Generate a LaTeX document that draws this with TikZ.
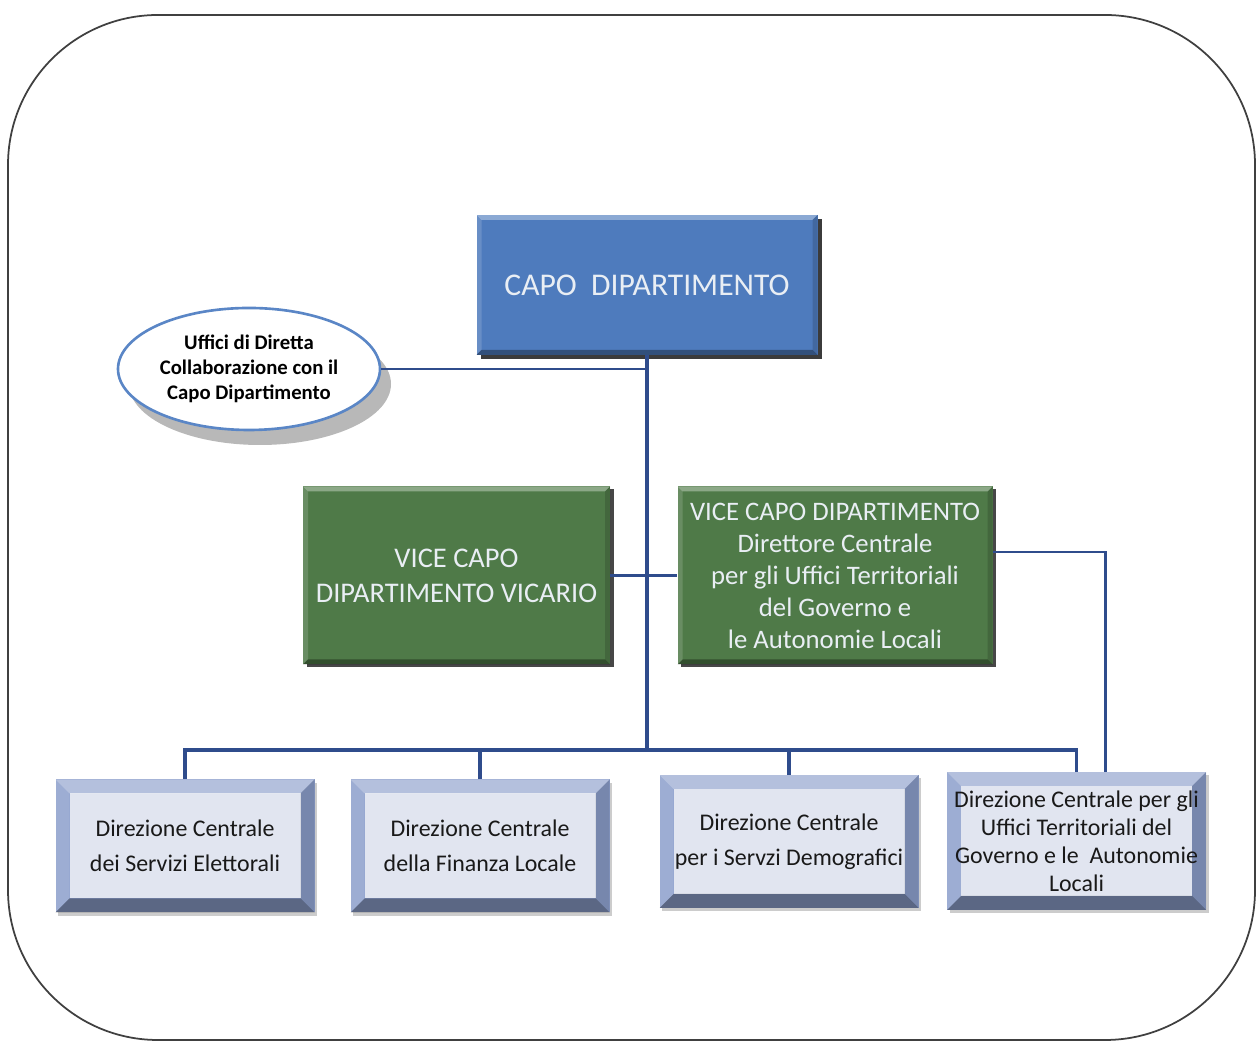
\documentclass[tikz,border=0pt]{standalone}
\usepackage{fontspec}
\setmainfont{Carlito}
\usetikzlibrary{shapes,arrows.meta,calc,positioning,shadows}
\definecolor{capoblue}{HTML}{4E7BBD}
\definecolor{vicegreen}{HTML}{4F7A48}
\definecolor{linkblue}{HTML}{2F4C8C}
\definecolor{ringblue}{HTML}{5A86C6}
\definecolor{dirbevel}{HTML}{8C9FCC}
\definecolor{dirface}{HTML}{E1E5F0}
\definecolor{lighttext}{HTML}{E9EEF4}
\tikzset{>=latex}
\tikzset{
  bevel/.style 2 args={path picture={
      \coordinate (pnw) at (path picture bounding box.north west);
      \coordinate (pne) at (path picture bounding box.north east);
      \coordinate (psw) at (path picture bounding box.south west);
      \coordinate (pse) at (path picture bounding box.south east);
      \path[fill=#2] ([shift={(#1,-#1)}]pnw) rectangle ([shift={(-#1,#1)}]pse);
      \fill[white,opacity=.35] (pnw) -- (pne) -- ([shift={(-#1,-#1)}]pne) -- ([shift={(#1,-#1)}]pnw) -- cycle;
      \fill[white,opacity=.15] (pnw) -- (psw) -- ([shift={(#1,#1)}]psw) -- ([shift={(#1,-#1)}]pnw) -- cycle;
      \fill[black,opacity=.15] (pne) -- (pse) -- ([shift={(-#1,#1)}]pse) -- ([shift={(-#1,-#1)}]pne) -- cycle;
      \fill[black,opacity=.35] (psw) -- (pse) -- ([shift={(-#1,#1)}]pse) -- ([shift={(#1,#1)}]psw) -- cycle;
    }},
  capobox/.style={rectangle, fill=capoblue, text=lighttext, align=center,
      minimum width=6.82cm, minimum height=2.8cm, bevel={0.1cm}{none},
      drop shadow={shadow xshift=0.08cm, shadow yshift=-0.08cm, fill=black!85, opacity=.9},
      font=\fontsize{18}{22}\selectfont},
  vicebox/.style={rectangle, fill=vicegreen, text=lighttext, align=center,
      minimum height=3.56cm, inner sep=2pt, bevel={0.1cm}{none},
      drop shadow={shadow xshift=0.07cm, shadow yshift=-0.05cm, fill=black!80, opacity=.9},
      font=\fontsize{15.2}{18.2}\selectfont},
  dirbox/.style={rectangle, fill=dirbevel, text=black!90, align=center,
      minimum width=5.18cm, minimum height=2.66cm, inner sep=1pt, bevel={0.28cm}{dirface},
      drop shadow={shadow xshift=0.05cm, shadow yshift=-0.07cm, fill=black!40, opacity=.5},
      font=\fontsize{13.6}{19.8}\selectfont},
  staffbox/.style={ellipse, draw=ringblue, line width=1.5pt, fill=white, align=center,
      minimum width=5.24cm, minimum height=2.44cm, inner sep=0pt,
      drop shadow={shadow xshift=0.22cm, shadow yshift=-0.3cm, fill=black!35, opacity=.8},
      font=\bfseries\fontsize{11.8}{14.2}\selectfont},
  trunk/.style={draw=linkblue, line width=1.8pt},
  link/.style={draw=linkblue, line width=1.2pt},
}
\begin{document}
\begin{tikzpicture}
  \useasboundingbox (0,0) rectangle (25.18,20.88);
  % outer frame
  \draw[black!75, line width=1pt, rounded corners=3cm] (0.16,0.08) rectangle (25.1,20.58);

  % top of the chart
  \node[capobox] (capo) at (12.94,15.18) {CAPO\ \ DIPARTIMENTO};
  \node[staffbox] (uffici) at (4.98,13.5) {Uffici di Diretta\\Collaborazione con il\\Capo Dipartimento};

  % vice heads
  \node[vicebox, minimum width=6.14cm, font=\fontsize{16.2}{20}\selectfont] (vicario) at (9.13,9.37)
    {VICE CAPO\\DIPARTIMENTO VICARIO};
  \node[vicebox, minimum width=6.3cm] (vice) at (16.7,9.37)
    {VICE CAPO DIPARTIMENTO\\Direttore Centrale\\per gli Uffici Territoriali\\del Governo e\\le Autonomie Locali};

  % central directorates
  \node[dirbox] (elett) at (3.7,3.96) {Direzione Centrale\\dei Servizi Elettorali};
  \node[dirbox] (finanza) at (9.6,3.96) {Direzione Centrale\\della Finanza Locale};
  \node[dirbox] (demo) at (15.78,4.05) {Direzione Centrale\\per i Servzi Demografici};
  \node[dirbox, minimum height=2.76cm, font=\fontsize{13.6}{16}\selectfont] (territ) at (21.53,4.06)
    {Direzione Centrale per gli\\Uffici Territoriali del\\Governo e le\ \ Autonomie\\Locali};

  \coordinate (bus) at (12.94,5.88);

  % connectors
  \draw[trunk] (capo.south) -- (bus);
  \draw[link] (uffici.east) -- (uffici.east -| capo.south);
  \draw[trunk] (vicario.east) -- (vice.west);
  \draw[trunk] (elett.north) |- (territ.north |- bus) -- (territ.north);
  \foreach \n in {finanza,demo}
    \draw[trunk] (\n.north) -- (\n.north |- bus);
  \draw[link] ([yshift=0.47cm]vice.east) -| ([xshift=0.58cm]territ.north);
\end{tikzpicture}
\end{document}
